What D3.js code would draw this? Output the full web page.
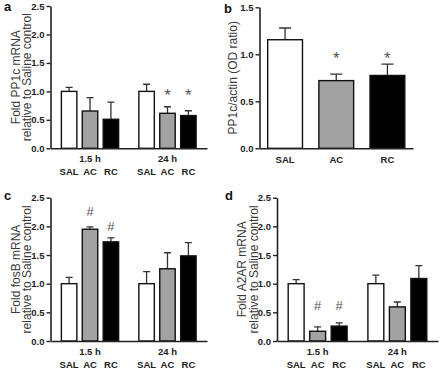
<!DOCTYPE html>
<html><head><meta charset="utf-8">
<script src="https://cdn.jsdelivr.net/npm/d3@7"></script>
<style>
body{margin:0;background:#fff;}
svg{display:block;font-family:"Liberation Sans",Arial,sans-serif;}
</style></head><body>
<svg id="canvas" width="440" height="374"></svg>
<script>
// Groups and conditions
var groups = ["1.5 h", "24 h"];
var conds = ["SAL", "AC", "RC"];
var fills = ["#ffffff", "#a2a2a2", "#000000"];

// Order in each series: 1.5 h SAL, AC, RC, then 24 h SAL, AC, RC
var pp1cMean = [1.00, 0.655, 0.51, 1.00, 0.615, 0.575];
var pp1cSem  = [0.07, 0.235, 0.30, 0.125, 0.115, 0.085];
var pp1cMarks = [{i: 4, s: "*", v: 1.0}, {i: 5, s: "*", v: 1.0}];

var fosbMean = [1.00, 1.95, 1.73, 1.00, 1.26, 1.485];
var fosbSem  = [0.11, 0.04, 0.07, 0.21, 0.28, 0.23];
var fosbMarks = [{i: 1, s: "#", v: 2.26}, {i: 2, s: "#", v: 2.01}];

var a2arMean = [1.00, 0.17, 0.26, 1.00, 0.595, 1.09];
var a2arSem  = [0.07, 0.075, 0.055, 0.15, 0.085, 0.225];
var a2arMarks = [{i: 1, s: "#", v: 0.63}, {i: 2, s: "#", v: 0.63}];

// Panel b: protein
var ppMean = [1.155, 0.72, 0.775];
var ppSem  = [0.125, 0.07, 0.12];
var ppMarks = [{i: 1, s: "*", v: 1.0}, {i: 2, s: "*", v: 1.0}];

var mrnaTicks = [0, 0.5, 1.0, 1.5, 2.0, 2.5];
var ppTicks = [0, 0.5, 1.0, 1.5];

var svg = d3.select("#canvas");
var fmt = d3.format(".1f");

function yAxisDraw(g, y, ticks) {
    g.call(d3.axisLeft(y).tickValues(ticks).tickFormat(fmt)
        .tickSize(4).tickSizeOuter(0).tickPadding(2));
    g.select(".domain").attr("stroke", "#222").attr("stroke-width", 1.6);
    g.selectAll(".tick line").attr("stroke", "#222").attr("stroke-width", 1.4);
    g.selectAll(".tick text").attr("font-size", 9.5).attr("font-weight", "bold")
        .attr("fill", "#222").attr("font-family", "Liberation Sans, Arial, sans-serif");
}

function title(x, yc, lines, dx) {
    lines.forEach(function(t, k) {
        svg.append("text")
            .attr("transform", "translate(" + (x + dx[k]) + "," + yc + ") rotate(-90)")
            .attr("text-anchor", "middle")
            .attr("font-size", 12)
            .attr("fill", "#3a3a3a")
            .text(t);
    });
}

function letter(x, y, s) {
    svg.append("text").attr("x", x).attr("y", y)
        .attr("font-size", 13).attr("font-weight", "bold").attr("fill", "#111")
        .text(s);
}

function grouped(p) {
    var y = d3.scaleLinear().domain([0, 2.5]).range([p.base, p.top]);
    var xg = d3.scaleBand().domain(groups).range([p.x0, p.x1])
        .paddingInner(0.18).paddingOuter(0.1);
    var xc = d3.scaleBand().domain(conds).range([0, xg.bandwidth()])
        .paddingInner(0.26).paddingOuter(0.15);

    var rows = p.mean.map(function(m, i) {
        return {g: groups[Math.floor(i / 3)], c: conds[i % 3], k: i % 3, m: m, e: p.sem[i]};
    });
    function cx(d) { return xg(d.g) + xc(d.c) + xc.bandwidth() / 2; }

    var g = svg.append("g");
    // error bars (upper only)
    g.selectAll(".err").data(rows).enter().append("path")
        .attr("d", function(d) {
            var c = cx(d), w = 3.5;
            return "M" + c + "," + y(d.m) + "V" + y(d.m + d.e) +
                "M" + (c - w) + "," + y(d.m + d.e) + "H" + (c + w);
        })
        .attr("stroke", "#333").attr("stroke-width", 1.3).attr("fill", "none");
    g.selectAll(".bar").data(rows).enter().append("rect")
        .attr("x", function(d) { return xg(d.g) + xc(d.c); })
        .attr("y", function(d) { return y(d.m); })
        .attr("width", xc.bandwidth())
        .attr("height", function(d) { return y(0) - y(d.m); })
        .attr("fill", function(d) { return fills[d.k]; })
        .attr("stroke", "#111").attr("stroke-width", 1.4);

    // significance marks
    g.selectAll(".mark").data(p.marks).enter().append("text")
        .attr("x", function(d) { return cx(rows[d.i]); })
        .attr("y", function(d) { return y(d.v) + (d.s === "*" ? 9.5 : 5); })
        .attr("text-anchor", "middle")
        .attr("font-size", d => d.s === "*" ? 17 : 13)
        .attr("fill", "#555")
        .text(function(d) { return d.s; });

    yAxisDraw(svg.append("g").attr("transform", "translate(" + p.x0 + ",0)"), y, mrnaTicks);

    var xa = svg.append("g").attr("transform", "translate(0," + p.base + ")")
        .call(d3.axisBottom(xg).tickSize(0).tickSizeOuter(0).tickPadding(7));
    xa.select(".domain").attr("stroke", "#222").attr("stroke-width", 1.6);
    xa.selectAll(".tick text").attr("font-size", 9.5).attr("font-weight", "bold")
        .attr("fill", "#222").attr("font-family", "Liberation Sans, Arial, sans-serif");

    svg.append("g").selectAll("text").data(rows).enter().append("text")
        .attr("x", cx)
        .attr("y", p.base + 27)
        .attr("text-anchor", "middle")
        .attr("font-size", 9.5).attr("font-weight", "bold").attr("fill", "#222")
        .text(function(d) { return d.c; });

    title(p.x0, (p.base + p.top) / 2, p.title, [-31, -19.5]);
}

// a
grouped({x0: 50.5, x1: 207, base: 148.3, top: 6, mean: pp1cMean, sem: pp1cSem,
    marks: pp1cMarks, title: ["Fold PP1c mRNA", "relative to Saline control"]});
letter(4, 11, "a");

// c
grouped({x0: 50.5, x1: 207, base: 341, top: 197.7, mean: fosbMean, sem: fosbSem,
    marks: fosbMarks, title: ["Fold fosB mRNA", "relative to Saline control"]});
letter(4, 200, "c");

// d
grouped({x0: 277, x1: 438, base: 341, top: 197.7, mean: a2arMean, sem: a2arSem,
    marks: a2arMarks, title: ["Fold A2AR mRNA", "relative to Saline control"]});
letter(225, 200, "d");

// b
(function() {
    var x0 = 259.5, x1 = 413, base = 148.3, top = 7.3;
    var y = d3.scaleLinear().domain([0, 1.5]).range([base, top]);
    var x = d3.scaleBand().domain(conds).range([x0, x1])
        .paddingInner(0.32).paddingOuter(0.16);
    var rows = ppMean.map(function(m, i) { return {c: conds[i], k: i, m: m, e: ppSem[i]}; });
    function cx(d) { return x(d.c) + x.bandwidth() / 2; }
    var g = svg.append("g");
    g.selectAll(".err").data(rows).enter().append("path")
        .attr("d", function(d) {
            var c = cx(d), w = 6;
            return "M" + c + "," + y(d.m) + "V" + y(d.m + d.e) +
                "M" + (c - w) + "," + y(d.m + d.e) + "H" + (c + w);
        })
        .attr("stroke", "#333").attr("stroke-width", 1.3).attr("fill", "none");
    g.selectAll(".bar").data(rows).enter().append("rect")
        .attr("x", function(d) { return x(d.c); })
        .attr("y", function(d) { return y(d.m); })
        .attr("width", x.bandwidth())
        .attr("height", function(d) { return y(0) - y(d.m); })
        .attr("fill", function(d) { return fills[d.k]; })
        .attr("stroke", "#111").attr("stroke-width", 1.4);
    g.selectAll(".mark").data(ppMarks).enter().append("text")
        .attr("x", function(d) { return cx(rows[d.i]); })
        .attr("y", function(d) { return y(d.v) + 9.5; })
        .attr("text-anchor", "middle").attr("font-size", 17).attr("fill", "#555")
        .text(function(d) { return d.s; });

    yAxisDraw(svg.append("g").attr("transform", "translate(" + x0 + ",0)"), y, ppTicks);
    var xa = svg.append("g").attr("transform", "translate(0," + base + ")")
        .call(d3.axisBottom(x).tickSize(0).tickSizeOuter(0).tickPadding(8));
    xa.select(".domain").attr("stroke", "#222").attr("stroke-width", 1.6);
    xa.selectAll(".tick text").attr("font-size", 9.5).attr("font-weight", "bold")
        .attr("fill", "#222").attr("font-family", "Liberation Sans, Arial, sans-serif");

    title(x0, (base + top) / 2, ["PP1c/actin (OD ratio)"], [-23]);
    letter(224, 13, "b");
})();
</script>
</body></html>
